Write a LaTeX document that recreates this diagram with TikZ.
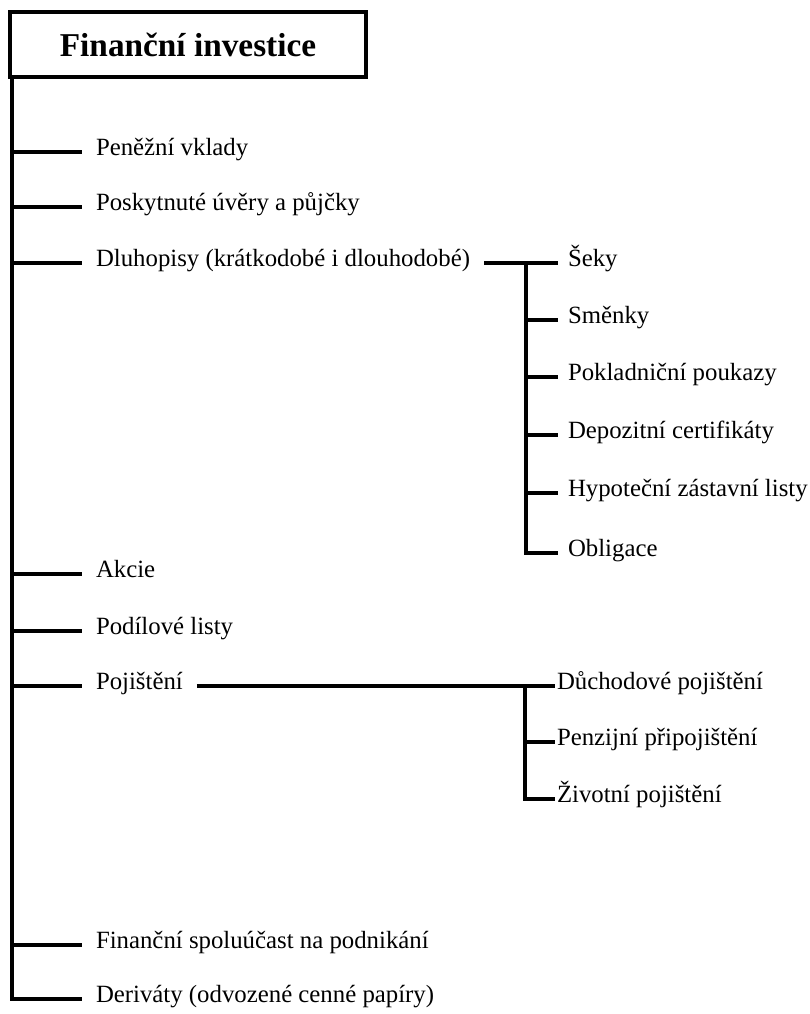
\documentclass[tikz,border=0pt]{standalone}
\usepackage{fontspec}
\setmainfont{Liberation Serif}
\begin{document}
\begin{tikzpicture}[x=1pt,y=-1pt,
    tree/.style={line width=3.6pt},
    item/.style={anchor=west,inner sep=0pt,outer xsep=14pt,outer ysep=0pt,
        text height=0.9em,text depth=0.24em,font=\fontsize{24.8}{30}\selectfont},
    subitem/.style={item,outer xsep=10pt}]
    \useasboundingbox (0,0) rectangle (809,1014);
    \node[draw,line width=3.6pt,outer sep=0pt,minimum width=356pt,minimum height=65pt,
        font=\bfseries\fontsize{33.3}{40}\selectfont] (fi) at (188,44.5) {Finanční investice};
    \node[item] (pen) at (82,152) {Peněžní vklady};
    \node[item] (posk) at (82,207) {Poskytnuté úvěry a půjčky};
    \node[item] (dlu) at (82,263) {Dluhopisy (krátkodobé i dlouhodobé)};
    \node[item] (akc) at (82,574) {Akcie};
    \node[item] (pod) at (82,631) {Podílové listy};
    \node[item] (poj) at (82,686) {Pojištění};
    \node[item] (fsp) at (82,945) {Finanční spoluúčast na podnikání};
    \node[item] (der) at (82,999) {Deriváty (odvozené cenné papíry)};
    \node[subitem] (seky) at (558,263) {Šeky};
    \node[subitem] (smen) at (558,320) {Směnky};
    \node[subitem] (pokl) at (558,377) {Pokladniční poukazy};
    \node[subitem] (depo) at (558,435) {Depozitní certifikáty};
    \node[subitem] (hypo) at (558,493) {Hypoteční zástavní listy};
    \node[subitem] (obl) at (558,553) {Obligace};
    \node[subitem,outer xsep=2pt] (duch) at (555,686) {Důchodové pojištění};
    \node[subitem,outer xsep=2pt] (penz) at (555,742) {Penzijní připojištění};
    \node[subitem,outer xsep=2pt] (ziv) at (555,799) {Životní pojištění};
    \coordinate (trunk) at ([xshift=2pt]fi.south west);
    \draw[tree] (trunk) |- (der.west);
    \foreach \n in {pen,posk,dlu,akc,pod,poj,fsp}
        \draw[tree] (trunk |- \n.west) -- (\n.west);
    \coordinate (dsplit) at (526,263);
    \draw[tree] (dlu.east) -- (seky.west);
    \draw[tree] (dsplit) |- (obl.west);
    \foreach \n in {smen,pokl,depo,hypo}
        \draw[tree] (dsplit |- \n.west) -- (\n.west);
    \coordinate (psplit) at (525,686);
    \draw[tree] (poj.east) -- (duch.west);
    \draw[tree] (psplit) |- (ziv.west);
    \draw[tree] (psplit |- penz.west) -- (penz.west);
\end{tikzpicture}
\end{document}
